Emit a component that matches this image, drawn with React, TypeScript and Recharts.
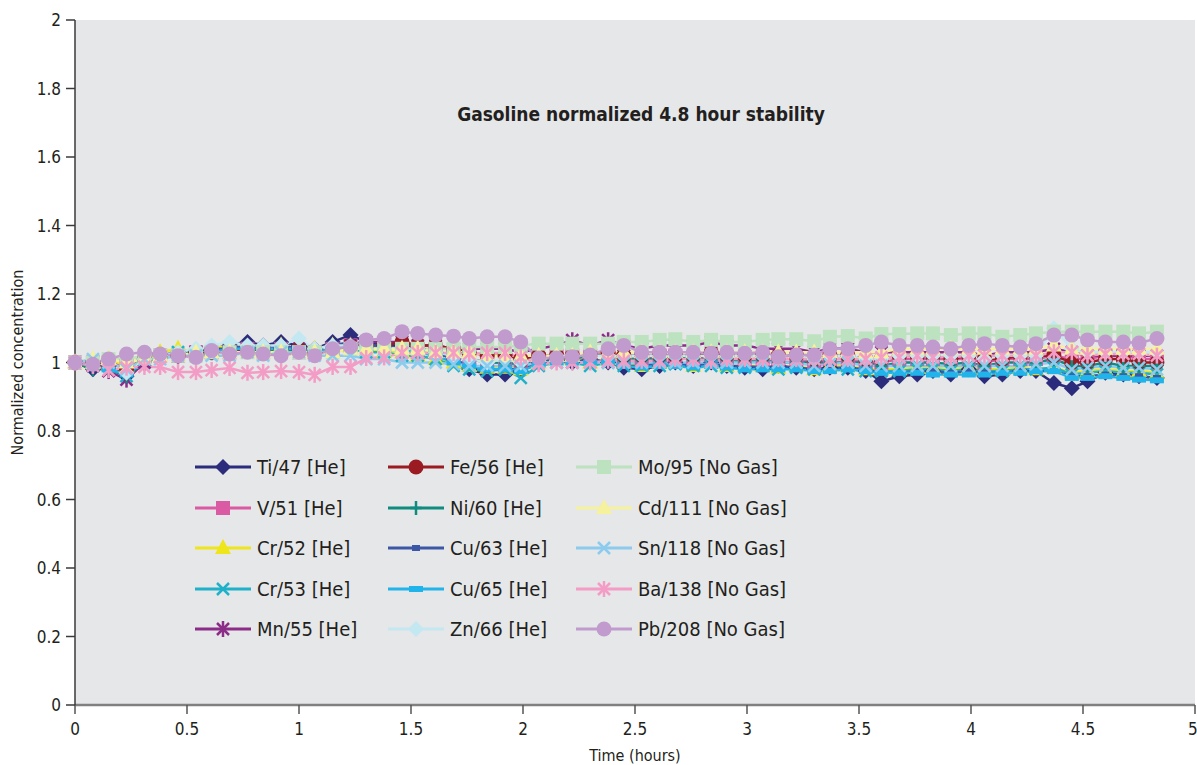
import { LineChart, Line, XAxis, YAxis, CartesianGrid, Legend } from 'recharts'

const FONT = "'Liberation Sans Narrow', 'Arial Narrow', 'DejaVu Sans Condensed', sans-serif"

// sampling times (hours)
const times = [
  0, 0.08, 0.15, 0.23, 0.31, 0.38, 0.46, 0.54,
  0.61, 0.69, 0.77, 0.84, 0.92, 1.0, 1.07, 1.15,
  1.23, 1.3, 1.38, 1.46, 1.53, 1.61, 1.69, 1.76,
  1.84, 1.92, 1.99, 2.07, 2.15, 2.22, 2.3, 2.38,
  2.45, 2.53, 2.61, 2.68, 2.76, 2.84, 2.91, 2.99,
  3.07, 3.14, 3.22, 3.3, 3.37, 3.45, 3.53, 3.6,
  3.68, 3.76, 3.83, 3.91, 3.99, 4.06, 4.14, 4.22,
  4.29, 4.37, 4.45, 4.52, 4.6, 4.68, 4.75, 4.83,
]

const ti47 = [
  1.0, 0.98, 0.99, 0.96, 1.01, 1.02, 1.03, 1.03,
  1.04, 1.05, 1.06, 1.05, 1.06, 1.05, 1.04, 1.06,
  1.08, 1.06, 1.05, 1.05, 1.04, 1.03, 1.01, 0.98,
  0.965, 0.965, 0.975, 1.0, 1.01, 1.0, 1.01, 1.0,
  0.985, 0.98, 0.99, 1.0, 0.99, 1.0, 0.99, 0.985,
  0.98, 0.99, 0.985, 0.98, 0.985, 0.985, 0.975, 0.945,
  0.96, 0.965, 0.975, 0.965, 0.98, 0.96, 0.965, 0.975,
  0.975, 0.94, 0.925, 0.945, 0.97, 0.965, 0.96, 0.955,
]
const v51 = [
  1.0, 1.0, 1.0, 0.99, 1.01, 1.02, 1.02, 1.03,
  1.03, 1.03, 1.04, 1.03, 1.04, 1.03, 1.03, 1.04,
  1.05, 1.04, 1.04, 1.04, 1.03, 1.03, 1.02, 1.01,
  1.0, 1.0, 1.0, 1.01, 1.02, 1.02, 1.02, 1.02,
  1.01, 1.01, 1.02, 1.02, 1.01, 1.02, 1.01, 1.01,
  1.01, 1.01, 1.01, 1.0, 1.01, 1.01, 1.0, 1.0,
  1.01, 1.01, 1.01, 1.01, 1.01, 1.0, 1.01, 1.01,
  1.01, 1.02, 1.01, 1.01, 1.02, 1.02, 1.01, 1.01,
]
const cr52 = [
  1.0, 1.0, 1.01, 0.99, 1.02, 1.03, 1.04, 1.03,
  1.04, 1.05, 1.04, 1.04, 1.05, 1.04, 1.04, 1.05,
  1.05, 1.04, 1.03, 1.03, 1.02, 1.01, 1.0, 0.99,
  0.985, 0.985, 0.98, 1.0, 1.01, 1.01, 1.0, 1.01,
  1.0, 0.99, 1.0, 1.0, 0.99, 1.0, 0.99, 0.99,
  0.99, 0.985, 0.99, 0.98, 0.99, 0.99, 0.98, 0.98,
  0.98, 0.985, 0.985, 0.98, 0.985, 0.98, 0.98, 0.985,
  0.98, 0.985, 0.97, 0.975, 0.98, 0.975, 0.975, 0.97,
]
const cr53 = [
  1.0, 0.99, 0.99, 0.96, 1.0, 1.02, 1.03, 1.02,
  1.03, 1.04, 1.03, 1.03, 1.04, 1.03, 1.03, 1.04,
  1.04, 1.03, 1.03, 1.02, 1.02, 1.01, 0.99, 0.98,
  0.975, 0.98, 0.955, 0.99, 1.0, 1.0, 0.99, 1.0,
  0.99, 0.99, 0.99, 0.995, 0.99, 0.99, 0.985, 0.985,
  0.99, 0.98, 0.985, 0.98, 0.985, 0.98, 0.975, 0.975,
  0.975, 0.98, 0.98, 0.975, 0.98, 0.975, 0.975, 0.98,
  0.98, 0.985, 0.965, 0.97, 0.975, 0.97, 0.97, 0.965,
]
const mn55 = [
  1.0, 0.99, 0.975, 0.95, 1.0, 1.02, 1.02, 1.03,
  1.03, 1.03, 1.04, 1.03, 1.04, 1.04, 1.03, 1.04,
  1.05, 1.06, 1.06, 1.06, 1.05, 1.05, 1.04, 1.04,
  1.04, 1.04, 1.03, 1.04, 1.05, 1.065, 1.05, 1.065,
  1.05, 1.04, 1.05, 1.05, 1.05, 1.06, 1.05, 1.05,
  1.04, 1.04, 1.04, 1.03, 1.04, 1.04, 1.03, 1.03,
  1.03, 1.03, 1.03, 1.03, 1.03, 1.02, 1.03, 1.03,
  1.03, 1.04, 1.03, 1.02, 1.02, 1.02, 1.02, 1.02,
]
const fe56 = [
  1.0, 1.0, 0.99, 0.98, 1.01, 1.02, 1.02, 1.03,
  1.03, 1.04, 1.04, 1.04, 1.04, 1.04, 1.03, 1.04,
  1.05, 1.05, 1.05, 1.06, 1.05, 1.05, 1.04, 1.03,
  1.02, 1.02, 1.01, 1.02, 1.02, 1.02, 1.02, 1.03,
  1.02, 1.02, 1.02, 1.02, 1.02, 1.03, 1.02, 1.02,
  1.02, 1.02, 1.02, 1.01, 1.02, 1.02, 1.01, 1.01,
  1.02, 1.02, 1.02, 1.01, 1.02, 1.01, 1.01, 1.02,
  1.02, 1.02, 1.0, 1.0, 1.01, 1.01, 1.0, 1.0,
]
const ni60 = [
  1.0, 0.98, 0.98, 0.96, 1.0, 1.02, 1.02, 1.03,
  1.03, 1.04, 1.04, 1.03, 1.04, 1.03, 1.03, 1.04,
  1.04, 1.04, 1.04, 1.04, 1.03, 1.03, 1.02, 1.01,
  1.0, 1.0, 0.99, 1.01, 1.02, 1.01, 1.02, 1.02,
  1.01, 1.01, 1.01, 1.02, 1.01, 1.01, 1.01, 1.0,
  1.01, 1.0, 1.0, 1.0, 1.0, 1.0, 1.0, 0.99,
  1.0, 1.0, 1.0, 0.995, 1.0, 0.99, 1.0, 1.0,
  1.0, 1.01, 0.99, 0.99, 1.0, 0.99, 0.99, 0.99,
]
const cu63 = [
  1.0, 0.99, 0.99, 0.97, 1.01, 1.02, 1.03, 1.03,
  1.04, 1.04, 1.05, 1.04, 1.05, 1.04, 1.04, 1.05,
  1.06, 1.05, 1.05, 1.04, 1.04, 1.03, 1.01, 0.99,
  0.98, 0.98, 0.98, 1.0, 1.01, 1.0, 1.01, 1.0,
  0.99, 0.99, 1.0, 1.0, 0.99, 1.0, 0.99, 0.99,
  0.985, 0.99, 0.985, 0.98, 0.985, 0.985, 0.98, 0.97,
  0.97, 0.975, 0.975, 0.97, 0.975, 0.97, 0.97, 0.975,
  0.975, 0.975, 0.96, 0.96, 0.965, 0.96, 0.96, 0.955,
]
const cu65 = [
  1.0, 0.99, 0.98, 0.965, 1.0, 1.02, 1.03, 1.02,
  1.03, 1.04, 1.04, 1.04, 1.04, 1.04, 1.03, 1.04,
  1.05, 1.04, 1.04, 1.04, 1.03, 1.02, 1.0, 0.99,
  0.98, 0.98, 0.975, 0.995, 1.0, 1.0, 1.0, 1.0,
  0.99, 0.985, 0.99, 0.99, 0.985, 0.99, 0.985, 0.98,
  0.98, 0.98, 0.98, 0.975, 0.975, 0.98, 0.975, 0.97,
  0.97, 0.97, 0.965, 0.965, 0.965, 0.965, 0.97, 0.97,
  0.975, 0.975, 0.955, 0.955, 0.96, 0.955, 0.95, 0.948,
]
const zn66 = [
  1.0, 1.01, 1.0, 0.97, 1.01, 1.02, 1.03, 1.04,
  1.05, 1.06, 1.05, 1.05, 1.05, 1.07, 1.04, 1.05,
  1.05, 1.04, 1.04, 1.04, 1.04, 1.03, 1.02, 1.01,
  1.0, 1.01, 1.0, 1.01, 1.02, 1.02, 1.02, 1.02,
  1.02, 1.02, 1.02, 1.02, 1.02, 1.02, 1.02, 1.02,
  1.02, 1.02, 1.02, 1.01, 1.02, 1.02, 1.01, 1.01,
  1.02, 1.02, 1.02, 1.02, 1.02, 1.01, 1.02, 1.02,
  1.02, 1.1, 1.04, 1.03, 1.03, 1.03, 1.03, 1.03,
]
const mo95 = [
  1.0, 1.0, 1.01, 1.01, 1.02, 1.02, 1.02, 1.02,
  1.03, 1.03, 1.03, 1.03, 1.03, 1.03, 1.03, 1.03,
  1.04, 1.04, 1.04, 1.04, 1.04, 1.04, 1.04, 1.045,
  1.045, 1.045, 1.05, 1.055, 1.055, 1.055, 1.055, 1.055,
  1.06, 1.06, 1.066, 1.068, 1.06, 1.066, 1.06, 1.06,
  1.066, 1.068, 1.068, 1.062, 1.075, 1.077, 1.07, 1.083,
  1.083, 1.085, 1.085, 1.08, 1.085, 1.085, 1.075, 1.08,
  1.085, 1.09, 1.09, 1.09, 1.09, 1.09, 1.085, 1.09,
]
const cd111 = [
  1.0, 1.01, 1.01, 1.0, 1.01, 1.02, 1.02, 1.03,
  1.03, 1.03, 1.03, 1.03, 1.03, 1.03, 1.03, 1.03,
  1.04, 1.04, 1.04, 1.04, 1.04, 1.03, 1.03, 1.03,
  1.02, 1.02, 1.02, 1.02, 1.02, 1.02, 1.03, 1.03,
  1.03, 1.03, 1.03, 1.03, 1.03, 1.03, 1.03, 1.03,
  1.03, 1.03, 1.03, 1.03, 1.03, 1.03, 1.03, 1.03,
  1.04, 1.04, 1.04, 1.04, 1.04, 1.04, 1.04, 1.04,
  1.04, 1.05, 1.04, 1.04, 1.04, 1.04, 1.04, 1.04,
]
const sn118 = [
  1.0, 1.01, 1.0, 0.98, 1.01, 1.01, 1.02, 1.02,
  1.02, 1.02, 1.03, 1.02, 1.03, 1.03, 1.02, 1.02,
  1.02, 1.01, 1.01, 1.0, 1.0, 1.0, 0.995, 0.99,
  0.99, 0.99, 0.99, 1.0, 1.0, 1.0, 1.0, 1.0,
  1.0, 1.0, 1.0, 1.0, 1.0, 1.0, 1.0, 1.0,
  1.0, 1.0, 1.0, 0.99, 0.995, 1.0, 0.99, 0.99,
  0.99, 0.99, 0.99, 0.99, 0.99, 0.99, 0.99, 0.99,
  0.995, 1.0, 0.98, 0.985, 0.99, 0.985, 0.985, 0.98,
]
const ba138 = [
  1.0, 0.99, 0.978, 0.985, 0.987, 0.987, 0.972, 0.972,
  0.978, 0.984, 0.97, 0.972, 0.975, 0.972, 0.964, 0.987,
  0.987, 1.013, 1.015, 1.028, 1.028, 1.028, 1.028, 1.025,
  1.028, 1.028, 1.015, 0.995, 1.0, 1.0, 1.0, 1.005,
  1.005, 1.005, 1.005, 1.01, 1.01, 1.005, 1.01, 1.01,
  1.01, 1.01, 1.01, 1.01, 1.01, 1.01, 1.01, 1.015,
  1.015, 1.02, 1.015, 1.015, 1.02, 1.02, 1.02, 1.02,
  1.02, 1.03, 1.03, 1.02, 1.025, 1.025, 1.025, 1.02,
]
const pb208 = [
  1.0, 0.995, 1.01, 1.025, 1.03, 1.025, 1.02, 1.015,
  1.035, 1.025, 1.03, 1.025, 1.02, 1.03, 1.02, 1.04,
  1.046, 1.066, 1.07, 1.09, 1.085, 1.08, 1.077, 1.07,
  1.075, 1.075, 1.06, 1.013, 1.013, 1.017, 1.022, 1.04,
  1.05, 1.03, 1.03, 1.03, 1.03, 1.027, 1.03, 1.027,
  1.03, 1.017, 1.022, 1.022, 1.04, 1.04, 1.05, 1.06,
  1.05, 1.05, 1.045, 1.04, 1.05, 1.055, 1.05, 1.045,
  1.055, 1.08, 1.08, 1.066, 1.06, 1.06, 1.057, 1.07,
]

const xTicks = [0, 0.5, 1, 1.5, 2, 2.5, 3, 3.5, 4, 4.5, 5]
const yTicks = [0, 0.2, 0.4, 0.6, 0.8, 1, 1.2, 1.4, 1.6, 1.8, 2]

type Shape = 'diamond' | 'square' | 'triangle' | 'x' | 'star' | 'circle' | 'plus' | 'dash' | 'bar'

const SERIES: { key: string; name: string; color: string; shape: Shape; values: number[] }[] = [
  { key: 'ti47', name: 'Ti/47 [He]', color: '#2B2D7C', shape: 'diamond', values: ti47 },
  { key: 'v51', name: 'V/51 [He]', color: '#DA5AA3', shape: 'square', values: v51 },
  { key: 'cr52', name: 'Cr/52 [He]', color: '#EEE51A', shape: 'triangle', values: cr52 },
  { key: 'cr53', name: 'Cr/53 [He]', color: '#1EB1C9', shape: 'x', values: cr53 },
  { key: 'mn55', name: 'Mn/55 [He]', color: '#8B2C88', shape: 'star', values: mn55 },
  { key: 'fe56', name: 'Fe/56 [He]', color: '#9A1C22', shape: 'circle', values: fe56 },
  { key: 'ni60', name: 'Ni/60 [He]', color: '#0F8B80', shape: 'plus', values: ni60 },
  { key: 'cu63', name: 'Cu/63 [He]', color: '#3D57A7', shape: 'dash', values: cu63 },
  { key: 'cu65', name: 'Cu/65 [He]', color: '#21B4EA', shape: 'bar', values: cu65 },
  { key: 'zn66', name: 'Zn/66 [He]', color: '#C3E8F2', shape: 'diamond', values: zn66 },
  { key: 'mo95', name: 'Mo/95 [No Gas]', color: '#BCE2BF', shape: 'square', values: mo95 },
  { key: 'cd111', name: 'Cd/111 [No Gas]', color: '#F6F19C', shape: 'triangle', values: cd111 },
  { key: 'sn118', name: 'Sn/118 [No Gas]', color: '#8CCBEE', shape: 'x', values: sn118 },
  { key: 'ba138', name: 'Ba/138 [No Gas]', color: '#F39CC6', shape: 'star', values: ba138 },
  { key: 'pb208', name: 'Pb/208 [No Gas]', color: '#C19BCD', shape: 'circle', values: pb208 },
]

const data = times.map((t, i) => {
  const row: Record<string, number> = { t }
  SERIES.forEach((s) => {
    row[s.key] = s.values[i]
  })
  return row
})

function Marker({ shape, color, cx, cy }: { shape: Shape; color: string; cx: number; cy: number }) {
  if (cx == null || cy == null) return null
  switch (shape) {
    case 'diamond':
      return <polygon points={`${cx},${cy - 8} ${cx + 8},${cy} ${cx},${cy + 8} ${cx - 8},${cy}`} fill={color} />
    case 'square':
      return <rect x={cx - 7} y={cy - 7} width={14} height={14} fill={color} />
    case 'triangle':
      return <polygon points={`${cx},${cy - 9} ${cx + 8},${cy + 6} ${cx - 8},${cy + 6}`} fill={color} />
    case 'x':
      return (
        <g stroke={color} strokeWidth={2.5}>
          <line x1={cx - 6} y1={cy - 6} x2={cx + 6} y2={cy + 6} />
          <line x1={cx - 6} y1={cy + 6} x2={cx + 6} y2={cy - 6} />
        </g>
      )
    case 'star':
      return (
        <g stroke={color} strokeWidth={2.5}>
          <line x1={cx - 6} y1={cy - 6} x2={cx + 6} y2={cy + 6} />
          <line x1={cx - 6} y1={cy + 6} x2={cx + 6} y2={cy - 6} />
          <line x1={cx} y1={cy - 8} x2={cx} y2={cy + 8} />
        </g>
      )
    case 'circle':
      return <circle cx={cx} cy={cy} r={7.5} fill={color} />
    case 'plus':
      return (
        <g stroke={color} strokeWidth={2.5}>
          <line x1={cx} y1={cy - 7} x2={cx} y2={cy + 7} />
          <line x1={cx - 6} y1={cy} x2={cx + 6} y2={cy} />
        </g>
      )
    case 'dash':
      return <rect x={cx - 4} y={cy - 3} width={8} height={6} fill={color} />
    case 'bar':
      return <rect x={cx - 7} y={cy - 3} width={14} height={6} fill={color} />
  }
  return null
}

function renderLegend() {
  return (
    <div
      style={{
        display: 'grid',
        gridTemplateRows: 'repeat(5, 40.5px)',
        gridTemplateColumns: '193px 188px 240px',
        gridAutoFlow: 'column',
        fontFamily: FONT,
        fontSize: 20,
        color: '#231F20',
      }}
    >
      {SERIES.map((s) => (
        <div key={s.key} style={{ display: 'flex', alignItems: 'center', height: 40.5 }}>
          <svg width={56} height={20} style={{ display: 'block' }}>
            <line x1={0} y1={10} x2={56} y2={10} stroke={s.color} strokeWidth={3} />
            <Marker shape={s.shape} color={s.color} cx={28} cy={10} />
          </svg>
          <span style={{ marginLeft: 6, whiteSpace: 'nowrap' }}>{s.name}</span>
        </div>
      ))}
    </div>
  )
}

export default function App() {
  return (
    <div style={{ position: 'absolute', left: 0, top: 0, width: 1197, height: 765, background: '#fff' }}>
      <LineChart width={1197} height={765} data={data} margin={{ top: 20, right: 2, bottom: 0, left: 0 }}>
        <CartesianGrid fill="#E6E7E8" fillOpacity={1} horizontal={false} vertical={false} />
        <XAxis
          dataKey="t"
          type="number"
          domain={[0, 5]}
          ticks={xTicks}
          height={60}
          axisLine={{ stroke: '#808080', strokeWidth: 2.5 }}
          tickLine={{ stroke: '#555', strokeWidth: 1.5 }}
          tickSize={9}
          tickMargin={9}
          tick={{ fill: '#231F20', fontSize: 17, fontFamily: FONT }}
          label={{
            value: 'Time (hours)',
            position: 'insideBottom',
            offset: 4,
            style: { fill: '#231F20', fontSize: 16, fontFamily: FONT },
          }}
        />
        <YAxis
          type="number"
          domain={[0, 2]}
          ticks={yTicks}
          width={75}
          axisLine={{ stroke: '#3A3A3A', strokeWidth: 1.5 }}
          tickLine={{ stroke: '#3A3A3A', strokeWidth: 1.5 }}
          tickSize={9}
          tickMargin={5}
          tick={{ fill: '#231F20', fontSize: 17, fontFamily: FONT }}
          label={{
            value: 'Normalized concentration',
            angle: -90,
            position: 'insideLeft',
            offset: 17,
            style: { fill: '#231F20', fontSize: 16, fontFamily: FONT, textAnchor: 'middle' },
          }}
        />
        <Legend
          layout="vertical"
          align="center"
          verticalAlign="middle"
          wrapperStyle={{ left: 195, top: 447, width: 640 }}
          content={renderLegend}
        />
        {SERIES.map((s) => (
          <Line
            key={s.key}
            dataKey={s.key}
            name={s.name}
            type="linear"
            stroke={s.color}
            strokeWidth={2.5}
            isAnimationActive={false}
            activeDot={false}
            dot={(p: any) => (
              <Marker key={`${s.key}-${p.index}`} shape={s.shape} color={s.color} cx={p.cx} cy={p.cy} />
            )}
          />
        ))}
      </LineChart>
      <div
        style={{
          position: 'absolute',
          left: 0,
          width: 1282,
          top: 103,
          textAlign: 'center',
          fontFamily: FONT,
          fontWeight: 'bold',
          fontSize: 19,
          color: '#231F20',
        }}
      >
        Gasoline normalized 4.8 hour stability
      </div>
    </div>
  )
}
